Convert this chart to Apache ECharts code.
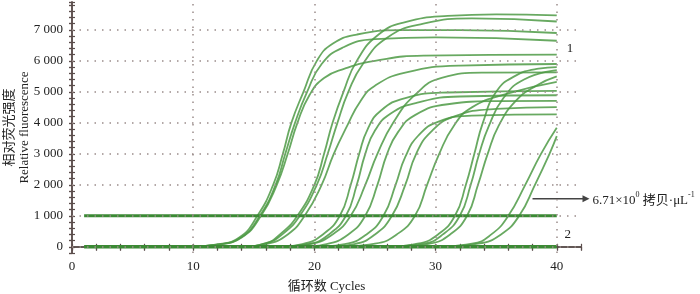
<!DOCTYPE html>
<html>
<head>
<meta charset="utf-8">
<script src="https://cdn.jsdelivr.net/npm/echarts@6/dist/echarts.min.js"></script>
<style>
  html, body { margin: 0; padding: 0; background: #fff; }
  #chart { width: 700px; height: 294px; }
</style>
</head>
<body>
<div id="chart"></div>
<script>
// axis setup
const xLabelValues = [0, 10, 20, 30, 40];
const gridX = [10, 20, 30, 40];
const gridY = [0, 1000, 2000, 3000, 4000, 5000, 6000, 7000];

// threshold and baseline
const thresholdLine = [[1, 1000], [40, 1000]];
const baseLine = [[1, 0], [40, 0]];

// amplification curves as [cycle, fluorescence]
const curveA1 = [[1,0],[10,10],[12,80],[13.8,300],[15.3,1000],[16.6,2000],[17.4,3000],[18.1,4000],[19.1,5000],[20.2,6000],[21.5,6550],[23.5,6850],[27,6990],[32,6990],[40,6900]];
const curveA2 = [[1,0],[10,10],[12,70],[14,320],[15.5,1000],[16.8,2000],[17.6,3000],[18.4,4000],[19.4,5000],[20.6,5900],[22.3,6420],[25,6700],[30,6760],[40,6650]];
const curveA3 = [[1,0],[10,10],[12,70],[14,300],[15.6,1000],[16.9,2000],[17.8,3000],[18.6,4000],[19.6,4900],[20.8,5450],[22.5,5750],[25,6000],[29,6170],[40,6200]];
const curveB1 = [[1,0],[14,10],[16,120],[17.3,450],[18.6,1000],[20,2000],[20.8,3000],[21.5,4000],[22.4,5000],[23.5,6000],[25.3,6850],[27.5,7250],[31,7450],[35,7500],[40,7470]];
const curveB2 = [[1,0],[14,10],[16,110],[17.5,450],[18.8,1000],[20.2,2000],[21.1,3000],[21.9,4000],[22.8,5000],[24,5900],[26,6750],[29,7200],[33,7370],[40,7270]];
const curveB3 = [[1,0],[14,10],[16,90],[17.8,400],[19.2,1000],[20.6,2000],[21.6,3000],[22.7,3900],[23.8,4700],[25,5200],[27.5,5620],[32,5850],[40,5900]];
const curveC1 = [[1,0],[17,10],[19,90],[20.7,400],[22.1,1000],[23,2000],[23.7,3000],[24.4,3800],[25.5,4400],[27.5,4800],[31,4980],[40,5030]];
const curveC2 = [[1,0],[17,10],[19.5,90],[21.2,400],[22.6,1000],[23.5,2000],[24.2,3000],[25,3750],[26.3,4300],[28.5,4650],[32,4850],[40,4890]];
const curveC3 = [[1,0],[17,10],[19.5,80],[21.5,400],[23,1000],[24.2,2000],[25.2,3000],[26.5,4000],[28.3,4900],[30.5,5450],[34,5620],[40,5630]];
const curveD1 = [[1,0],[19,10],[21,90],[22.8,400],[24.2,1000],[25.2,2000],[26,3000],[26.9,3700],[28.3,4250],[31,4600],[35,4700],[40,4710]];
const curveD2 = [[1,0],[20,10],[22.5,90],[24.3,400],[25.7,1000],[26.7,2000],[27.5,2900],[28.6,3600],[30.3,4050],[33,4230],[40,4275]];
const curveD3 = [[1,0],[21,10],[23.3,90],[25,400],[26.4,1000],[27.5,2000],[28.4,3000],[29.6,3700],[31.5,4200],[35,4450],[40,4510]];
const curveE1 = [[1,0],[22,10],[25,100],[26.8,400],[28.3,1000],[29.3,2000],[30.3,3000],[31.5,3900],[33,4500],[36,4950],[40,5325]];
const curveF1 = [[1,0],[26,10],[28.5,100],[30.2,400],[31.6,1000],[32.5,2000],[33.2,3000],[33.9,4000],[35,5000],[36.5,5500],[38.5,5750],[40,5800]];
const curveF2 = [[1,0],[26,10],[29,100],[30.6,400],[32,1000],[32.9,2000],[33.6,3000],[34.4,3900],[35.6,4800],[37.3,5400],[40,5700]];
const curveF3 = [[1,0],[27,10],[29.5,100],[31.2,400],[32.6,1000],[33.5,2000],[34.3,3000],[35.2,3900],[36.6,4700],[38.3,5200],[40,5500]];
const curveG1 = [[1,0],[30,10],[33,100],[34.6,400],[36,1000],[37.4,2000],[38.7,3000],[40,3840]];
const curveG2 = [[1,0],[30.5,10],[33.5,100],[35.4,400],[36.9,1000],[38.2,2000],[39.4,3000],[40,3570]];

const curves = [curveA1, curveA2, curveA3, curveB1, curveB2, curveB3, curveC1, curveC2, curveC3,
  curveD1, curveD2, curveD3, curveE1, curveF1, curveF2, curveF3, curveG1, curveG2];

// annotations
const arrowFrom = [38.0, 1550];
const arrowTo = [42.7, 1550];
const arrowText = '{n|6.71×10}{s|0}{n| 拷贝·μL}{s|-1}';
const markOne = [41.1, 6400];
const markTwo = [40.9, 380];

const axisColor = '#5a4d4b';
const serif = '"Liberation Serif", "Noto Sans CJK SC", serif';
const fmtThousands = v => String(v).replace(/\B(?=(\d{3})+(?!\d))/g, ' ');

const chart = echarts.init(document.getElementById('chart'));

const xBase = { type: 'value', min: 0, max: 42, interval: 2, splitLine: { show: false } };
const yBase = { type: 'value', min: -200, max: 7900, interval: 200, splitLine: { show: false } };

const curveSeries = curves.map(c => ({
  type: 'line',
  data: c,
  smooth: 0.5,
  showSymbol: false,
  symbol: 'none',
  silent: true,
  z: 3,
  lineStyle: { color: '#4e9a45', width: 1.8, opacity: 0.85 }
}));

chart.setOption({
  animation: false,
  grid: { left: 72, right: 119, top: 2, bottom: 41, outerBoundsMode: 'none', containLabel: false },
  xAxis: [
    Object.assign({}, xBase, {
      position: 'bottom',
      axisLine: { show: true, lineStyle: { color: axisColor, width: 1.5 } },
      axisTick: { show: true, inside: false, length: 4, lineStyle: { color: axisColor, width: 1.2 } },
      axisLabel: {
        margin: 7,
        color: '#222',
        fontFamily: serif,
        fontSize: 13,
        formatter: v => (xLabelValues.indexOf(v) >= 0 ? String(v) : '')
      },
      name: '循环数 Cycles',
      nameLocation: 'middle',
      nameGap: 27,
      nameMoveOverlap: false,
      nameTextStyle: { color: '#222', fontFamily: serif, fontSize: 13 }
    }),
    Object.assign({}, xBase, {
      position: 'bottom',
      axisLine: { show: false },
      axisTick: { show: true, inside: true, length: 3, lineStyle: { color: axisColor, width: 1.2 } },
      axisLabel: { show: false }
    }),
    Object.assign({}, xBase, {
      position: 'top',
      axisLine: { show: true, lineStyle: { color: axisColor, width: 1.5 } },
      axisTick: { show: true, inside: true, length: 3, lineStyle: { color: axisColor, width: 1.2 } },
      axisLabel: { show: false }
    })
  ],
  yAxis: [
    Object.assign({}, yBase, {
      position: 'left',
      axisLine: { show: true, lineStyle: { color: axisColor, width: 1.5 } },
      axisTick: { show: true, inside: false, length: 3, lineStyle: { color: axisColor, width: 1.2 } },
      axisLabel: {
        margin: 9,
        color: '#222',
        fontFamily: serif,
        fontSize: 13,
        formatter: v => (gridY.indexOf(v) >= 0 ? fmtThousands(v) : '')
      },
      name: '相对荧光强度\nRelative fluorescence',
      nameLocation: 'middle',
      nameRotate: 90,
      nameGap: 40,
      nameMoveOverlap: false,
      nameTextStyle: { color: '#222', fontFamily: serif, fontSize: 13, lineHeight: 15 }
    }),
    Object.assign({}, yBase, {
      position: 'left',
      axisLine: { show: false },
      axisTick: { show: true, inside: true, length: 3, lineStyle: { color: axisColor, width: 1.2 } },
      axisLabel: { show: false }
    }),
    Object.assign({}, yBase, {
      position: 'right',
      axisLine: { show: true, lineStyle: { color: axisColor, width: 1.5 } },
      axisTick: { show: true, inside: true, length: 3, lineStyle: { color: axisColor, width: 1.2 } },
      axisLabel: { show: false }
    })
  ],
  series: [
    {
      // dotted grid
      type: 'line',
      data: [[1, 0]],
      showSymbol: false,
      symbol: 'none',
      silent: true,
      z: 1,
      lineStyle: { opacity: 0 },
      markLine: {
        silent: true,
        symbol: 'none',
        label: { show: false },
        lineStyle: { type: [1.5, 6], color: '#9b8c8a', width: 1.5 },
        data: gridY.map(v => ({ yAxis: v })).concat(gridX.map(v => ({ xAxis: v })))
      }
    },
    {
      type: 'line', data: thresholdLine, showSymbol: false, symbol: 'none', silent: true, z: 4,
      lineStyle: { color: '#3b8a34', width: 3 }
    },
    {
      type: 'line', data: baseLine, showSymbol: false, symbol: 'none', silent: true, z: 4,
      lineStyle: { color: '#3b8a34', width: 3.5 }
    }
  ].concat(curveSeries)
});

// annotations placed through the chart's own scale
const p1 = chart.convertToPixel({ gridIndex: 0 }, arrowFrom);
const p2 = chart.convertToPixel({ gridIndex: 0 }, arrowTo);
const m1 = chart.convertToPixel({ gridIndex: 0 }, markOne);
const m2 = chart.convertToPixel({ gridIndex: 0 }, markTwo);

chart.setOption({
  graphic: [
    { type: 'line', shape: { x1: p1[0], y1: p1[1], x2: p2[0] - 5, y2: p2[1] },
      style: { stroke: '#444', lineWidth: 1.5 }, silent: true },
    { type: 'polygon', shape: { points: [[p2[0], p2[1]], [p2[0] - 7, p2[1] - 3.5], [p2[0] - 7, p2[1] + 3.5]] },
      style: { fill: '#444' }, silent: true },
    { type: 'text', x: p2[0] + 3, y: p2[1],
      style: {
        text: arrowText, fill: '#222',
        textAlign: 'left', textVerticalAlign: 'middle', align: 'left', verticalAlign: 'middle',
        rich: {
          n: { fontFamily: serif, fontSize: 13, lineHeight: 16, fill: '#222', verticalAlign: 'bottom' },
          s: { fontFamily: serif, fontSize: 8, lineHeight: 16, fill: '#222', verticalAlign: 'top' }
        }
      } },
    { type: 'text', x: m1[0], y: m1[1],
      style: { text: '1', font: '13px ' + serif, fill: '#222',
               textAlign: 'center', textVerticalAlign: 'middle', align: 'center', verticalAlign: 'middle' } },
    { type: 'text', x: m2[0], y: m2[1],
      style: { text: '2', font: '13px ' + serif, fill: '#222',
               textAlign: 'center', textVerticalAlign: 'middle', align: 'center', verticalAlign: 'middle' } }
  ]
});

window.addEventListener('resize', function () {
  chart.resize();
});
</script>
</body>
</html>
